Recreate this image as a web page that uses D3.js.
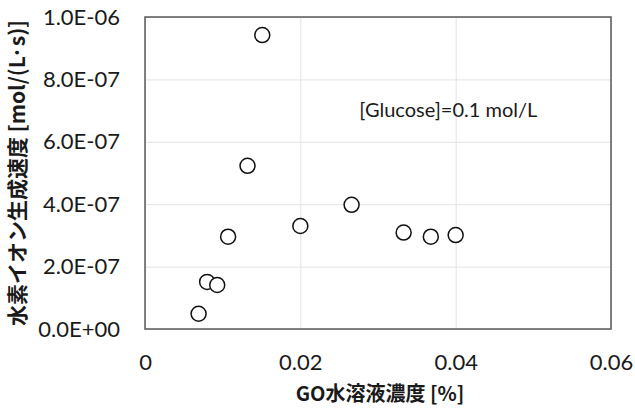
<!DOCTYPE html>
<html>
<head>
<meta charset="utf-8">
<script src="https://cdn.jsdelivr.net/npm/d3@7"></script>
<style>
  html, body { margin: 0; padding: 0; background: #fff; }
  svg { display: block; }
</style>
</head>
<body>
<svg id="chart" width="635" height="410"></svg>
<script>
// GO concentration [%] and hydrogen-ion generation rate [mol/(L·s)]
const goConc = [0.0069, 0.0080, 0.0093, 0.0107, 0.0132, 0.0151, 0.0200, 0.0266, 0.0333, 0.0368, 0.0400];
const h2Rate = [0.049e-6, 0.151e-6, 0.141e-6, 0.296e-6, 0.523e-6, 0.942e-6, 0.330e-6, 0.398e-6, 0.309e-6, 0.296e-6, 0.301e-6];

const xTicks = [0, 0.02, 0.04, 0.06];
const xTickLabels = ["0", "0.02", "0.04", "0.06"];
const yTicks = [0, 2e-7, 4e-7, 6e-7, 8e-7, 1e-6];
const yTickLabels = ["0.0E+00", "2.0E-07", "4.0E-07", "6.0E-07", "8.0E-07", "1.0E-06"];

const xTitle = "GO水溶液濃度 [%]";
const yTitle = "水素イオン生成速度 [mol/(L·s)]";
const note = "[Glucose]=0.1 mol/L";

const svg = d3.select("#chart");
const plot = { left: 145, right: 611, top: 17, bottom: 329 };

const x = d3.scaleLinear().domain([0, 0.06]).range([plot.left, plot.right]);
const y = d3.scaleLinear().domain([0, 1e-6]).range([plot.bottom, plot.top]);

const tickFont = "Lato, 'Noto Sans', sans-serif";
const cjkFont = "'Noto Sans CJK JP', sans-serif";

// gridlines
svg.append("g")
  .attr("transform", `translate(0,${plot.bottom})`)
  .call(d3.axisBottom(x).tickValues(xTicks).tickSize(-(plot.bottom - plot.top)).tickFormat(""))
  .call(g => g.select(".domain").remove())
  .call(g => g.selectAll("line").attr("stroke", "#e3e3e3").attr("stroke-width", 1));

svg.append("g")
  .attr("transform", `translate(${plot.left},0)`)
  .call(d3.axisLeft(y).tickValues(yTicks).tickSize(-(plot.right - plot.left)).tickFormat(""))
  .call(g => g.select(".domain").remove())
  .call(g => g.selectAll("line").attr("stroke", "#e3e3e3").attr("stroke-width", 1));

// plot frame
svg.append("rect")
  .attr("x", plot.left).attr("y", plot.top)
  .attr("width", plot.right - plot.left).attr("height", plot.bottom - plot.top)
  .attr("fill", "none").attr("stroke", "#595959").attr("stroke-width", 1.5);

// tick labels
svg.append("g")
  .attr("transform", `translate(0,${plot.bottom})`)
  .call(d3.axisBottom(x).tickValues(xTicks).tickSize(0).tickPadding(25)
    .tickFormat((d, i) => xTickLabels[i]))
  .call(g => g.select(".domain").remove())
  .call(g => g.selectAll("text").attr("font-family", tickFont).attr("font-size", 22).attr("fill", "#1a1a1a"));

svg.append("g")
  .attr("transform", `translate(${plot.left},0)`)
  .call(d3.axisLeft(y).tickValues(yTicks).tickSize(0).tickPadding(25)
    .tickFormat((d, i) => yTickLabels[i]))
  .call(g => g.select(".domain").remove())
  .call(g => g.selectAll("text").attr("font-family", tickFont).attr("font-size", 22).attr("fill", "#1a1a1a"));

// points
svg.append("g")
  .selectAll("circle")
  .data(goConc.map((c, i) => [c, h2Rate[i]]))
  .join("circle")
  .attr("cx", d => x(d[0]))
  .attr("cy", d => y(d[1]))
  .attr("r", 7.5)
  .attr("fill", "#fff")
  .attr("stroke", "#111")
  .attr("stroke-width", 1.5);

// annotation
svg.append("text")
  .attr("x", x(0.0276)).attr("y", y(0.68e-6))
  .attr("font-family", tickFont).attr("font-size", 20).attr("fill", "#1a1a1a")
  .text(note);

// axis titles
svg.append("text")
  .attr("x", 380).attr("y", 401)
  .attr("text-anchor", "middle")
  .attr("font-family", cjkFont).attr("font-weight", "bold").attr("font-size", 20).attr("fill", "#1a1a1a")
  .text(xTitle);

svg.append("text")
  .attr("transform", `translate(25,${(plot.top + plot.bottom) / 2}) rotate(-90)`)
  .attr("text-anchor", "middle")
  .attr("font-family", cjkFont).attr("font-weight", "bold").attr("font-size", 21).attr("fill", "#1a1a1a")
  .text(yTitle);
</script>
</body>
</html>
